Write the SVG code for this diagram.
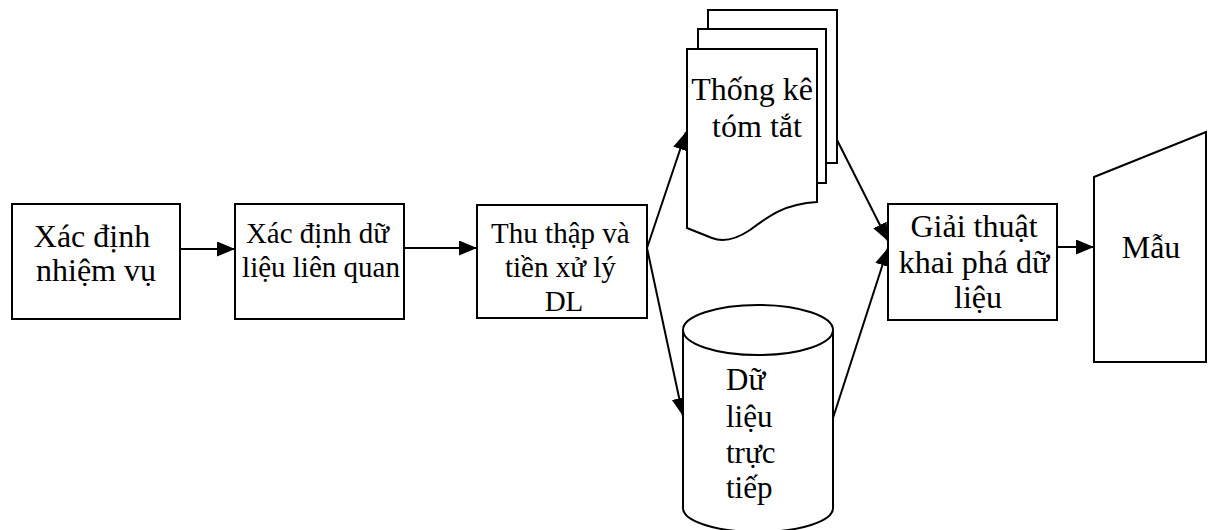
<svg xmlns="http://www.w3.org/2000/svg" width="1208" height="530" viewBox="0 0 1208 530">
  <defs>
    <marker id="arrow" markerUnits="userSpaceOnUse" markerWidth="19" markerHeight="16" refX="18" refY="7.5" orient="auto">
      <path d="M0,0 L18,7.5 L0,15 z" fill="#000"/>
    </marker>
    <style>
      .shape { fill: #fff; stroke: #000; stroke-width: 2; }
      .conn { fill: none; stroke: #000; stroke-width: 2; marker-end: url(#arrow); }
      .label { font-family: "Liberation Serif", "Times New Roman", serif; fill: #000; }
    </style>
  </defs>
  <rect width="1208" height="530" fill="#fff"/>

  <!-- connectors -->
  <g id="connectors">
    <line class="conn" x1="180" y1="249" x2="235" y2="249"/>
    <line class="conn" x1="404" y1="248" x2="477" y2="248"/>
    <line class="conn" x1="647" y1="248" x2="686" y2="132"/>
    <line class="conn" x1="647" y1="248" x2="683" y2="416"/>
    <line class="conn" x1="833" y1="132" x2="888" y2="241"/>
    <line class="conn" x1="833" y1="418" x2="888" y2="248"/>
    <line class="conn" x1="1057" y1="247" x2="1094" y2="247"/>
  </g>

  <g id="node-xac-dinh-nhiem-vu">
    <rect class="shape" x="12" y="204" width="168" height="115"/>
    <text class="label" font-size="32" text-anchor="middle">
      <tspan x="96" y="247">Xác định</tspan>
      <tspan x="96" y="281">nhiệm vụ</tspan>
    </text>
  </g>

  <g id="node-xac-dinh-du-lieu">
    <rect class="shape" x="235" y="204" width="169" height="115"/>
    <text class="label" font-size="29" text-anchor="middle">
      <tspan x="321" y="243">Xác định dữ</tspan>
      <tspan x="321" y="277">liệu liên quan</tspan>
    </text>
  </g>

  <g id="node-thu-thap">
    <rect class="shape" x="477" y="205" width="170" height="113"/>
    <text class="label" font-size="29" text-anchor="middle">
      <tspan x="564" y="243">Thu thập và</tspan>
      <tspan x="564" y="277">tiền xử lý</tspan>
      <tspan x="564" y="311">DL</tspan>
    </text>
  </g>

  <g id="node-thong-ke">
    <rect class="shape" x="708" y="10" width="129" height="153"/>
    <rect class="shape" x="698" y="29" width="128" height="154"/>
    <path class="shape" d="M687,49 L817,49 L817,202 C785,204 770,215 750,230 C735,240 722,242 712,238 L687,228 Z"/>
    <text class="label" font-size="32" text-anchor="middle">
      <tspan x="756" y="100">Thống kê</tspan>
      <tspan x="757" y="137">tóm tắt</tspan>
    </text>
  </g>

  <g id="node-du-lieu-truc-tiep">
    <path class="shape" d="M683,330 L683,508 A75,24 0 0 0 833,508 L833,330"/>
    <ellipse class="shape" cx="758" cy="330" rx="75" ry="25"/>
    <text class="label" font-size="31">
      <tspan x="726" y="390">Dữ</tspan>
      <tspan x="726" y="427">liệu</tspan>
      <tspan x="726" y="463">trực</tspan>
      <tspan x="726" y="498">tiếp</tspan>
    </text>
  </g>

  <g id="node-giai-thuat">
    <rect class="shape" x="888" y="204" width="169" height="116"/>
    <text class="label" font-size="32" text-anchor="middle">
      <tspan x="978" y="237">Giải thuật</tspan>
      <tspan x="978" y="273">khai phá dữ</tspan>
      <tspan x="978" y="308">liệu</tspan>
    </text>
  </g>

  <g id="node-mau">
    <polygon class="shape" points="1094,177 1206,132 1206,362 1094,362"/>
    <text class="label" font-size="32" text-anchor="middle" x="1151" y="258">Mẫu</text>
  </g>
</svg>
